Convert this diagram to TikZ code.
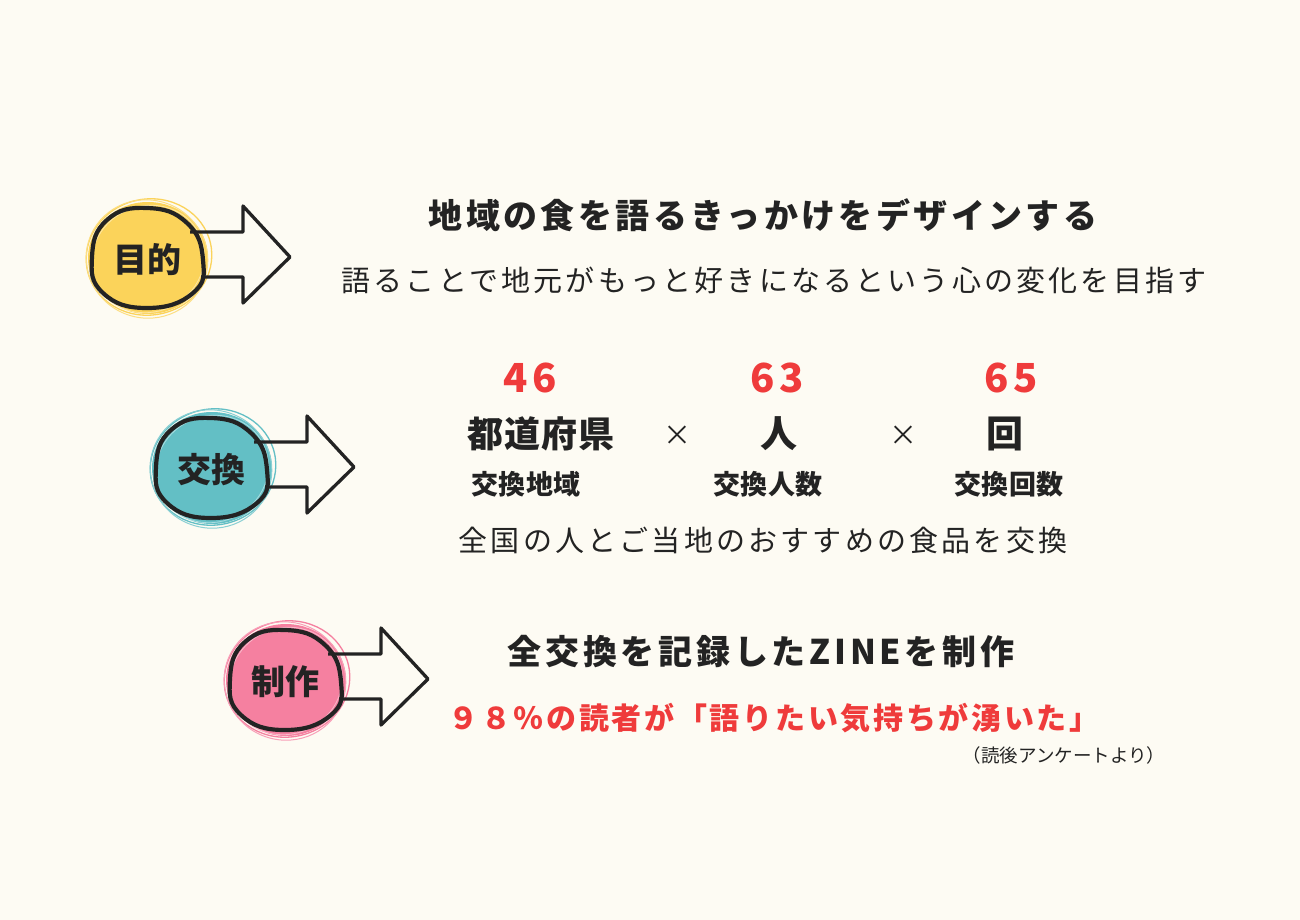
\documentclass[tikz,border=0pt]{standalone}
\usepackage{fontspec}
\newfontfamily\jp{Noto Sans CJK JP}
\definecolor{bgc}{HTML}{FDFBF3}
\definecolor{ylw}{HTML}{FBD35A}
\definecolor{tel}{HTML}{63BFC5}
\definecolor{pnk}{HTML}{F580A0}
\definecolor{redc}{HTML}{EF3B3B}
\definecolor{ink}{HTML}{232323}
\tikzset{
  txt/.style={inner sep=0pt, text=ink, font=\jp},
  pics/badge/.style 2 args={code={
    \fill[#1] (0,0) ellipse [x radius=60, y radius=56];
    \draw[#1, line width=1.3] (1,-1) ellipse [x radius=63, y radius=58, rotate=12];
    \draw[#1!75!white, line width=1] (-1,1) ellipse [x radius=61, y radius=59, rotate=-18];
    \draw[white, opacity=.45, line width=0.8] (0,1) ellipse [x radius=57, y radius=53, rotate=25];
    \draw[ink, line width=3.3, line join=round] (42,-26) -- (95,-26) -- (95,-52) -- (142,-1) -- (95,45) -- (95,19) -- (53,19);
    \draw[ink, line width=4.2] plot[smooth cycle, tension=0.8] coordinates {(-1,-50) (39,-35) (55,2) (45,35) (-1,50) (-45,35) (-56,-1) (-41,-38)};
    \node[txt, font=\jp\bfseries\fontsize{34}{38}\selectfont] (-label) at (-1,2) {#2};
  }}
}
\begin{document}
\begin{tikzpicture}[x=1pt,y=-1pt]
\fill[bgc] (0,0) rectangle (1300,920);
\useasboundingbox (0,0) rectangle (1300,920);

\pic (b1) at (148,258) {badge={ylw}{目的}};
\pic (b2) at (212,468) {badge={tel}{交換}};
\pic (b3) at (286,680) {badge={pnk}{制作}};

% section 1
\node[txt, font=\jp\bfseries\fontsize{34}{38}\selectfont\addfontfeatures{LetterSpace=10}] (t1) at (763,215) {地域の食を語るきっかけをデザインする};
\node[txt, font=\jp\fontsize{29}{33}\selectfont\addfontfeatures{LetterSpace=11}] (t2) at (774,280) {語ることで地元がもっと好きになるという心の変化を目指す};

% section 2
\node[txt, text=redc, font=\jp\bfseries\fontsize{40}{44}\selectfont\addfontfeatures{LetterSpace=12}] (n1) at (530,378) {46};
\node[txt, text=redc, font=\jp\bfseries\fontsize{40}{44}\selectfont\addfontfeatures{LetterSpace=12}] (n2) at (777,378) {63};
\node[txt, text=redc, font=\jp\bfseries\fontsize{40}{44}\selectfont\addfontfeatures{LetterSpace=12}] (n3) at (1011,378) {65};
\node[txt, font=\jp\bfseries\fontsize{36}{40}\selectfont\addfontfeatures{LetterSpace=3}] (u1) at (541,434) {都道府県};
\node[txt, font=\jp\fontsize{28}{32}\selectfont] (x1) at (677,436) {×};
\node[txt, font=\jp\bfseries\fontsize{37}{40}\selectfont] (u2) at (779,434) {人};
\node[txt, font=\jp\fontsize{28}{32}\selectfont] (x2) at (903,436) {×};
\node[txt, font=\jp\bfseries\fontsize{37}{40}\selectfont] (u3) at (1005,434) {回};
\node[txt, font=\jp\bfseries\fontsize{27}{30}\selectfont\addfontfeatures{LetterSpace=1}] (l1) at (526,484) {交換地域};
\node[txt, font=\jp\bfseries\fontsize{27}{30}\selectfont\addfontfeatures{LetterSpace=1}] (l2) at (768,484) {交換人数};
\node[txt, font=\jp\bfseries\fontsize{27}{30}\selectfont\addfontfeatures{LetterSpace=1}] (l3) at (1009,484) {交換回数};
\node[txt, font=\jp\fontsize{29}{33}\selectfont\addfontfeatures{LetterSpace=11}] (t3) at (763,540) {全国の人とご当地のおすすめの食品を交換};

% section 3
\node[txt, font=\jp\bfseries\fontsize{34}{38}\selectfont\addfontfeatures{LetterSpace=11}] (t4) at (761,652) {全交換を記録したZINEを制作};
\node[txt, text=redc, font=\jp\bfseries\fontsize{30}{34}\selectfont\addfontfeatures{LetterSpace=9}] (t5) at (774,718) {９８％の読者が「語りたい気持ちが湧いた」};
\node[txt, font=\jp\fontsize{18.5}{21}\selectfont] (t6) at (1064,755) {（読後アンケートより）};
\end{tikzpicture}
\end{document}
